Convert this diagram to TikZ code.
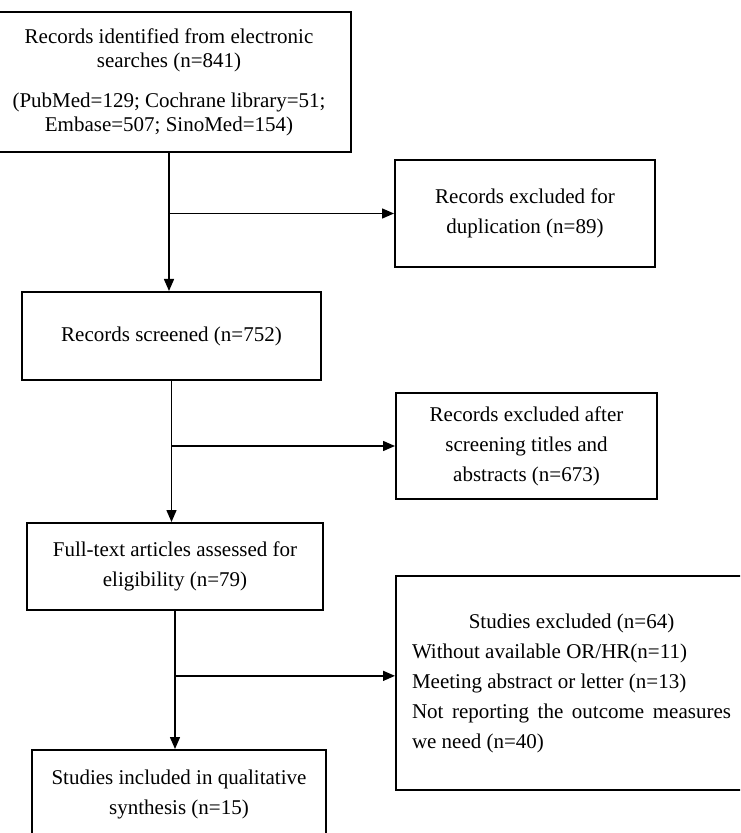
\documentclass[tikz,border=0pt]{standalone}
\usepackage{fontspec}
\setmainfont{Liberation Serif}
\usetikzlibrary{arrows.meta,positioning,calc}

\begin{document}
\begin{tikzpicture}[
  x=0.5pt,y=-0.5pt,
  block/.style={rectangle,draw=black,line width=1pt,align=center,inner sep=2pt,
                font=\fontsize{10.5}{15}\selectfont},
  arrow/.style={-{Triangle[length=6pt,width=5pt]},black,line width=0.75pt},
]
\useasboundingbox (0,0) rectangle (740,833);
\clip (0,0) rectangle (740,833);

\node[block,minimum width=182pt,minimum height=70pt,font=\fontsize{10.5}{12}\selectfont] (rec) at (169,82)
  {Records identified from electronic\\searches (n=841)\\[8pt](PubMed=129; Cochrane library=51;\\Embase=507; SinoMed=154)};
\node[block,minimum width=130pt,minimum height=53.5pt] (dup) at (525,213.5)
  {Records excluded for\\duplication (n=89)};
\node[block,minimum width=149.5pt,minimum height=44pt] (scr) at (171.5,336)
  {Records screened (n=752)};
\node[block,minimum width=130.5pt,minimum height=53pt] (abs) at (526.5,446)
  {Records excluded after\\screening titles and\\abstracts (n=673)};
\node[block,minimum width=148pt,minimum height=43.5pt] (full) at (175,566.5)
  {Full-text articles assessed for\\eligibility (n=79)};
\node[block,minimum width=175.5pt,minimum height=107pt,text width=159.5pt,inner xsep=8pt,align=justify] (excl) at (571.5,683)
  {{\centering Studies excluded (n=64)\par}Without available OR/HR(n=11)\par
   Meeting abstract or letter (n=13)\par Not reporting the outcome measures we need (n=40)};
\node[block,minimum width=147pt,minimum height=44pt] (incl) at (179,794)
  {Studies included in qualitative\\synthesis (n=15)};

\coordinate (j1) at (rec.south |- dup.west);
\coordinate (j2) at (scr.south |- abs.west);
\coordinate (j3) at ($(full.south)!0.47!(full.south |- incl.north)$);

\draw[arrow] (rec.south)  -- (rec.south |- scr.north);
\draw[arrow] (j1) -- (dup.west);
\draw[arrow] (scr.south)  -- (scr.south |- full.north);
\draw[arrow] (j2) -- (abs.west);
\draw[arrow] (full.south) -- (full.south |- incl.north);
\draw[arrow] (j3) -- (j3 -| excl.west);

\end{tikzpicture}
\end{document}
